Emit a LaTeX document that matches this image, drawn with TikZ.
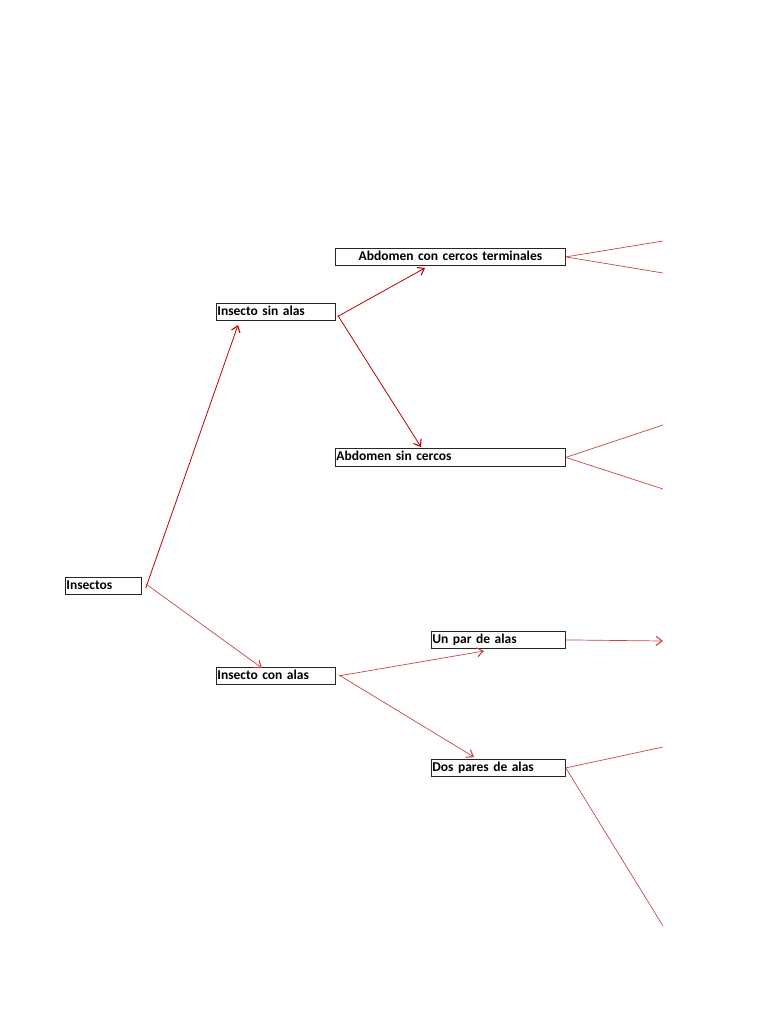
\documentclass[tikz,border=0pt]{standalone}
\usepackage{fontspec}
\setmainfont{Carlito}
\usetikzlibrary{arrows.meta}
\begin{document}
\begin{tikzpicture}[x=1pt,y=-1pt,
  box/.style={draw=black!85,line width=0.8pt,inner sep=0pt,font=\bfseries\fontsize{13.5}{14}\selectfont,text height=9pt,text depth=2.5pt},
  dark/.style={draw={rgb,255:red,192;green,0;blue,0},line width=0.8pt},
  light/.style={draw={rgb,255:red,200;green,70;blue,70},line width=0.7pt},
  tip/.style={-{Straight Barb[length=6pt,width=9pt,line width=1.1pt]}}]
\useasboundingbox (0,0) rectangle (768,1024);
% boxes
\node[box,minimum width=76pt,minimum height=17pt,anchor=north west,align=left,text width=74pt] (ins) at (65,577) {Insectos};
\node[box,minimum width=119pt,minimum height=17pt,anchor=north west,text width=117pt] (sin) at (216,303) {Insecto sin alas};
\node[box,minimum width=119pt,minimum height=17pt,anchor=north west,text width=117pt] (con) at (216,667) {Insecto con alas};
\node[box,minimum width=230pt,minimum height=17pt,anchor=north west,align=center,text width=228pt] (act) at (335,248) {Abdomen con cercos terminales};
\node[box,minimum width=230pt,minimum height=18pt,anchor=north west,text width=228pt] (asc) at (335,448) {Abdomen sin cercos};
\node[box,minimum width=134pt,minimum height=17pt,anchor=north west,text width=132pt] (upa) at (431,631) {Un par de alas};
\node[box,minimum width=134pt,minimum height=17pt,anchor=north west,text width=132pt] (dpa) at (431,759) {Dos pares de alas};
% free ends
\coordinate (e1) at (663,241);
\coordinate (e2) at (663,273);
\coordinate (e3) at (663,425);
\coordinate (e4) at (663,489);
\coordinate (e5) at (663,641);
\coordinate (e6) at (663,747);
\coordinate (e7) at (663,926);
% targets
\coordinate (t1) at (238,325);
\coordinate (t2) at (262,668);
\coordinate (t3) at (425,268);
\coordinate (t4) at (421,447);
\coordinate (t5) at (484,651);
\coordinate (t6) at (474,757);
% connectors
\draw[dark,tip] ([xshift=4pt,yshift=-2pt]ins.east) -- (t1);
\draw[light,tip] ([xshift=4pt,yshift=2pt]ins.east) -- (t2);
\draw[dark,tip] ([xshift=2pt,yshift=-4.5pt]sin.east) -- (t3);
\draw[dark,tip] ([xshift=2pt,yshift=-3.5pt]sin.east) -- (t4);
\draw[light,tip] ([xshift=3pt,yshift=0pt]con.east) -- (t5);
\draw[light,tip] ([xshift=3pt,yshift=1pt]con.east) -- (t6);
\draw[light] (act.east) -- (e1);
\draw[light] (act.east) -- (e2);
\draw[light] (asc.east) -- (e3);
\draw[light] (asc.east) -- (e4);
\draw[light,tip] (upa.east) -- (e5);
\draw[light] (dpa.east) -- (e6);
\draw[light] (dpa.east) -- (e7);
\end{tikzpicture}
\end{document}
